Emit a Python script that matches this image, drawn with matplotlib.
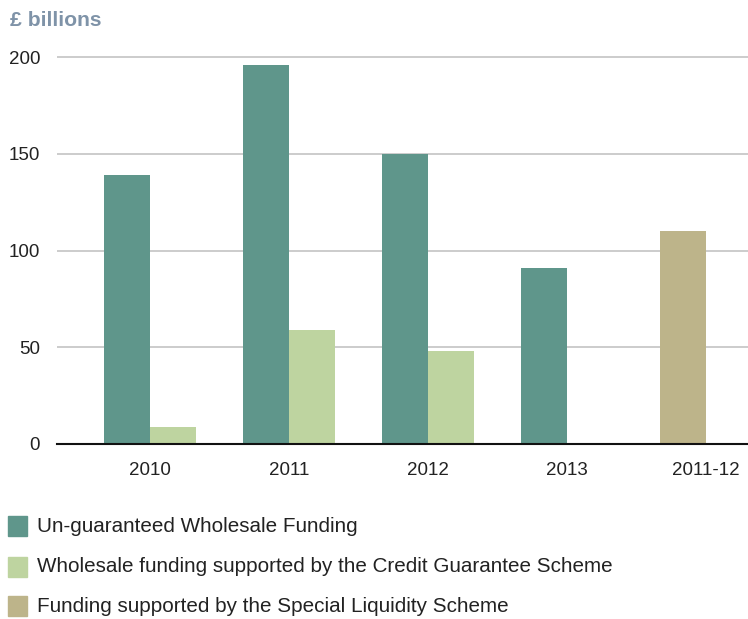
import matplotlib
matplotlib.use("Agg")
import matplotlib.pyplot as plt
from matplotlib.patches import Rectangle
import numpy as np

categories = ["2010", "2011", "2012", "2013", "2011-12"]
unguaranteed = [139, 196, 150, 91, 0]
cgs_supported = [9, 59, 48, 0, 0]
sls_supported = [0, 0, 0, 0, 110]
series_labels = ["Un-guaranteed Wholesale Funding",
                 "Wholesale funding supported by the Credit Guarantee Scheme",
                 "Funding supported by the Special Liquidity Scheme"]
colors = ["#5f968b", "#bed4a0", "#bdb48a"]
yticks = [0, 50, 100, 150, 200]

plt.rcParams['font.family'] = ['Liberation Sans', 'DejaVu Sans']

W, H = 748, 619
fig = plt.figure(figsize=(W / 100, H / 100), dpi=100)
ymax = 202
px_per_unit = (444 - 57) / 200
top_px = 444 - ymax * px_per_unit
ax = fig.add_axes([57 / W, 1 - 444 / H, 1 - 57 / W, (444 - top_px) / H])

x = np.arange(len(categories))
w = 0.331
ax.bar(x - w / 2, unguaranteed, w, color=colors[0], zorder=2)
ax.bar(x + w / 2, cgs_supported, w, color=colors[1], zorder=2)
ax.bar(x - w / 2, sls_supported, w, color=colors[2], zorder=2)

ax.set_xlim(-0.67, 4.30)
ax.set_ylim(0, ymax)
ax.set_yticks(yticks)
ax.set_yticklabels([str(v) for v in yticks])
ax.set_xticks(x)
ax.set_xticklabels(categories)
ax.yaxis.grid(True, color="#c8c8c8", linewidth=1.3, zorder=0)
ax.set_axisbelow(True)
for s in ["top", "right", "left"]:
    ax.spines[s].set_visible(False)
ax.spines["bottom"].set_color("#111111")
ax.spines["bottom"].set_linewidth(1.5)
ax.spines["bottom"].set_zorder(3)
ax.tick_params(axis="both", length=0, labelsize=13.5, colors="#222222")
ax.tick_params(axis="y", pad=12.2)
ax.tick_params(axis="x", pad=13)

fig.text(10 / W, 1 - 20 / H, "£ billions", fontsize=15.2, fontweight="bold",
         color="#7f93a8", va="center", ha="left")

row_y = [526, 567, 606]
for lab, col, yc in zip(series_labels, colors, row_y):
    fig.patches.append(Rectangle((8 / W, 1 - (yc + 10) / H), 19 / W, 20 / H,
                                 transform=fig.transFigure, color=col, figure=fig))
    fig.text(37 / W, 1 - yc / H, lab, fontsize=14.9, color="#222222",
             va="center", ha="left")

fig.savefig("out.png", dpi=100)
